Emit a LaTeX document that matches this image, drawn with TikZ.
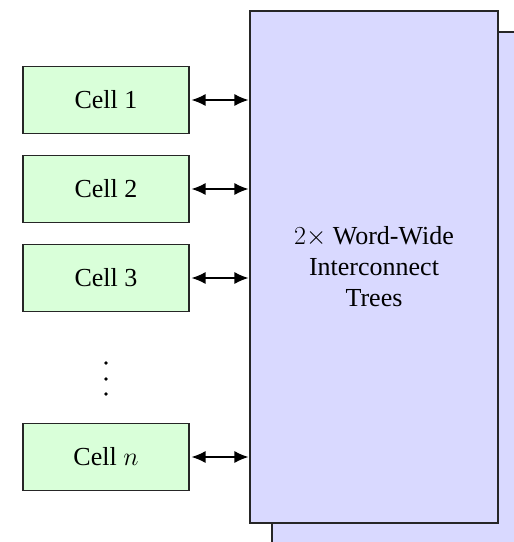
\RequirePackage{fix-cm}
\documentclass[tikz,border=0pt]{standalone}
\usepackage{fontspec}
\setmainfont{Liberation Serif}
\usetikzlibrary{arrows.meta}
\begin{document}
\begin{tikzpicture}[x=1pt,y=-1pt,
  cellbox/.style={draw=black!85,line width=1.1pt,fill=green!15,minimum width=166pt,minimum height=67pt,inner sep=0pt,font=\fontsize{26}{31}\selectfont},
  treebox/.style={draw=black!85,line width=1.1pt,fill=blue!15,minimum width=248pt,minimum height=512pt,inner sep=0pt,align=center,font=\fontsize{26}{31}\selectfont},
  dotmark/.style={circle,fill=black,inner sep=0pt,minimum size=3.6pt},
  link/.style={line width=1.3pt,{Latex[length=14pt,width=12pt]}-{Latex[length=14pt,width=12pt]}}]
\useasboundingbox (0,0) rectangle (514,542);
\clip (0,0) rectangle (514,542);
\node[treebox] (back) at (396,288) {};
\node[treebox] (front) at (374,267) {$2\times$ Word-Wide\\Interconnect\\Trees};
\node[cellbox] (c1) at (106,100) {Cell 1};
\node[cellbox] (c2) at (106,189) {Cell 2};
\node[cellbox] (c3) at (106,278) {Cell 3};
\node[dotmark] (d1) at (106,363) {};
\node[dotmark] (d2) at (106,379) {};
\node[dotmark] (d3) at (106,394) {};
\node[cellbox] (cn) at (106,457) {Cell $n$};
\foreach \c in {c1,c2,c3,cn}{
  \draw[link] ([xshift=2pt]\c.east) -- ([xshift=-1pt]front.west |- \c.east);
}
\end{tikzpicture}
\end{document}
